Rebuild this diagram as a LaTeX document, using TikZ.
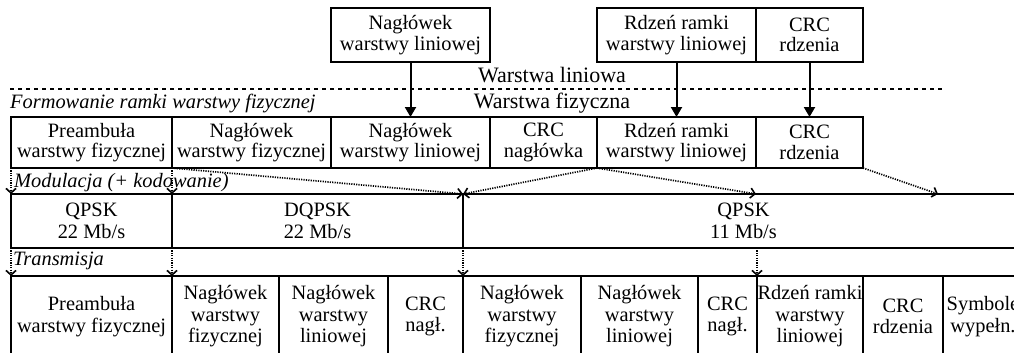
\documentclass[tikz,border=0pt]{standalone}
\usepackage{fontspec}
\setmainfont{Liberation Serif}
\usetikzlibrary{arrows.meta}
\begin{document}
\begin{tikzpicture}[x=1pt,y=-1pt,
  box/.style={draw, line width=2pt, rectangle, inner sep=0pt, outer sep=0pt,
    anchor=north west, align=center, font=\fontsize{20.4}{20.5}\selectfont},
  band/.style={box, font=\fontsize{20.4}{22.5}\selectfont},
  cell/.style={box, font=\fontsize{20.4}{21.5}\selectfont},
  layer/.style={inner sep=0pt, anchor=base, font=\fontsize{22}{22}\selectfont},
  phase/.style={inner sep=0pt, anchor=base west, font=\fontsize{20.4}{20.4}\selectfont\itshape},
  sep/.style={line width=2pt, dash pattern=on 4pt off 4pt},
  solidarrow/.style={line width=2pt, -{Triangle[length=10pt,width=11pt]}},
  dotarrow/.style={line width=1.7pt, dash pattern=on 1.2pt off 1.2pt, -{Straight Barb[length=4.5pt,width=10pt,line width=1.6pt]}}
]
\useasboundingbox (0,0) rectangle (1014,353);

% link-layer boxes
\node[box, minimum width=159pt, minimum height=54pt] (tA) at (331,8) {Nagłówek\\warstwy liniowej};
\node[box, minimum width=159pt, minimum height=54pt] (tB) at (597,8) {Rdzeń ramki\\warstwy liniowej};
\node[box, minimum width=107pt, minimum height=54pt] (tC) at (756,8) {CRC\\rdzenia};

% layer labels
\coordinate (sepL) at (10,89);
\coordinate (sepR) at (943,89);
\draw[sep] (sepL) -- (sepR);
\node[layer] (wl) at (552,82) {Warstwa liniowa};
\node[layer] (wf) at (552,108) {Warstwa fizyczna};
\node[phase] (fr) at (10,108) {Formowanie ramki warstwy fizycznej};

% physical frame
\node[box, minimum width=161pt, minimum height=51pt] (f1) at (11,117) {Preambuła\\warstwy fizycznej};
\node[box, minimum width=159pt, minimum height=51pt] (f2) at (172,117) {Nagłówek\\warstwy fizycznej};
\node[box, minimum width=159pt, minimum height=51pt] (f3) at (331,117) {Nagłówek\\warstwy liniowej};
\node[box, minimum width=107pt, minimum height=51pt] (f4) at (490,117) {CRC\\nagłówka};
\node[box, minimum width=159pt, minimum height=51pt] (f5) at (597,117) {Rdzeń ramki\\warstwy liniowej};
\node[box, minimum width=107pt, minimum height=51pt] (f6) at (756,117) {CRC\\rdzenia};

\draw[solidarrow] (tA.south) -- (f3.north);
\draw[solidarrow] (tB.south) -- (f5.north);
\draw[solidarrow] (tC.south) -- (f6.north);

% modulation
\node[phase] (mo) at (14,187) {Modulacja (+ kodowanie)};
\node[band, minimum width=161pt, minimum height=54pt] (m1) at (11,194) {QPSK\\22 Mb/s};
\node[band, minimum width=291pt, minimum height=54pt] (m2) at (172,194) {DQPSK\\22 Mb/s};
\node[band, minimum width=561pt, minimum height=54pt] (m3) at (463,194) {QPSK\\11 Mb/s};

\coordinate (q1) at (756,194);
\coordinate (q2) at (938,194);
\draw[dotarrow] (f1.south west) -- (m1.north west);
\draw[dotarrow] (f2.south west) -- (m2.north west);
\draw[dotarrow] (f2.south west) -- (m3.north west);
\draw[dotarrow] (f5.south west) -- (m3.north west);
\draw[dotarrow] (f5.south west) -- (q1);
\draw[dotarrow] (f6.south east) -- (q2);

% transmission
\node[phase] (tr) at (13,265) {Transmisja};
\node[cell, minimum width=161pt, minimum height=81pt] (t1) at (11,276) {Preambuła\\warstwy fizycznej};
\node[cell, minimum width=107pt, minimum height=81pt] (t2) at (172,276) {Nagłówek\\warstwy\\fizycznej};
\node[cell, minimum width=109pt, minimum height=81pt] (t3) at (279,276) {Nagłówek\\warstwy\\liniowej};
\node[cell, minimum width=75pt, minimum height=81pt] (t4) at (388,276) {CRC\\nagł.};
\node[cell, minimum width=118pt, minimum height=81pt] (t5) at (463,276) {Nagłówek\\warstwy\\fizycznej};
\node[cell, minimum width=117pt, minimum height=81pt] (t6) at (581,276) {Nagłówek\\warstwy\\liniowej};
\node[cell, minimum width=59pt, minimum height=81pt] (t7) at (698,276) {CRC\\nagł.};
\node[cell, minimum width=106pt, minimum height=81pt] (t8) at (757,276) {Rdzeń ramki\\warstwy\\liniowej};
\node[cell, minimum width=80pt, minimum height=81pt] (t9) at (863,276) {CRC\\rdzenia};
\node[cell, minimum width=80pt, minimum height=81pt] (t10) at (943,276) {Symbole\\wypełn.};

\coordinate (q3) at (t8.north west |- m3.south);
\draw[dotarrow] (m1.south west) -- (t1.north west);
\draw[dotarrow] (m2.south west) -- (t2.north west);
\draw[dotarrow] (m3.south west) -- (t5.north west);
\draw[dotarrow] (q3) -- (t8.north west);
\end{tikzpicture}
\end{document}
